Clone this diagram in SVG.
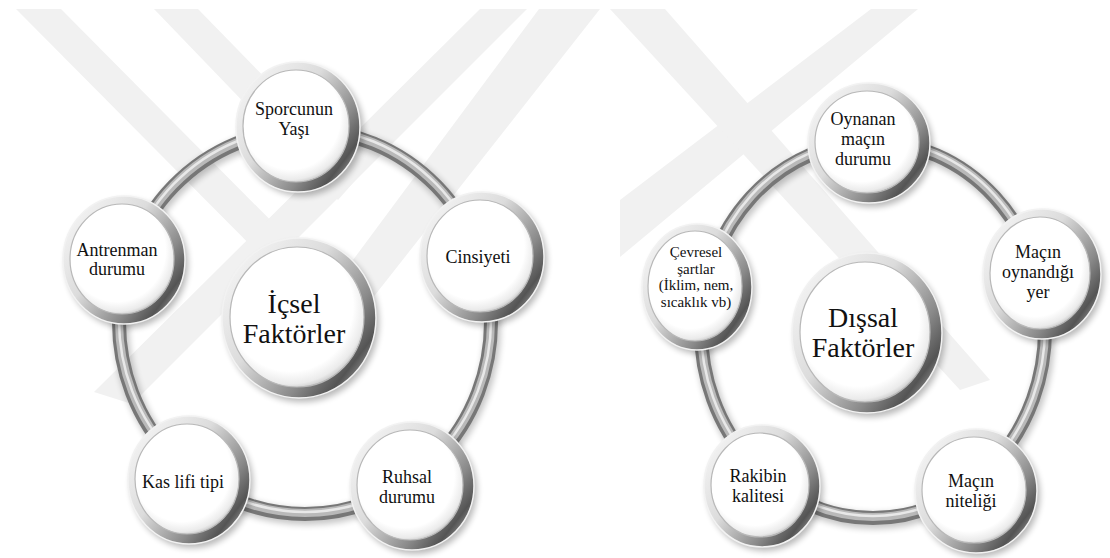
<svg xmlns="http://www.w3.org/2000/svg" width="1110" height="558" viewBox="0 0 1110 558">
<defs>
<linearGradient id="rimGrad" x1="0" y1="0" x2="1" y2="0.8">
<stop offset="0" stop-color="#fbfbfb"/>
<stop offset="0.45" stop-color="#dcdcdc"/>
<stop offset="0.75" stop-color="#8a8a8a"/>
<stop offset="0.9" stop-color="#545454"/>
<stop offset="1" stop-color="#a0a0a0"/>
</linearGradient>
<radialGradient id="faceGrad" cx="0.45" cy="0.42" r="0.6">
<stop offset="0" stop-color="#ffffff"/>
<stop offset="0.78" stop-color="#ffffff"/>
<stop offset="0.93" stop-color="#ebebeb"/>
<stop offset="1" stop-color="#c8c8c8"/>
</radialGradient>
<filter id="blur" x="-20%" y="-20%" width="140%" height="140%">
<feGaussianBlur stdDeviation="3"/>
</filter>
<style>
.wm{fill:#f1f1f1}
.shadow{fill:#000;opacity:.28;filter:url(#blur)}
.rim{fill:url(#rimGrad);stroke:#f2f2f2;stroke-width:1.5}
.face{fill:url(#faceGrad);stroke:#b8b8b8;stroke-width:1.2}
.t{font-family:"Liberation Serif","Times New Roman",serif;font-size:18px;fill:#111;text-anchor:middle}
.ts{font-size:15px}
.tc{font-size:28px}
.ringsh{fill:none;stroke:#000;stroke-width:16;opacity:.22;filter:url(#blur)}
.ring1{fill:none;stroke:#777;stroke-width:14}
.ring2{fill:none;stroke:#b9b9b9;stroke-width:8}
.ring3{fill:none;stroke:#e8e8e8;stroke-width:2.5}
</style>
</defs>
<rect width="1110" height="558" fill="#ffffff"/>
<g id="watermark">
<polygon class="wm" points="16,9 61,9 300,250 300,295"/>
<polygon class="wm" points="154,9 198,9 360,175 338,200"/>
<polygon class="wm" points="480,9 527,9 132,404 94,392"/>
<polygon class="wm" points="539,9 600,9 320,365 290,345"/>
<polygon class="wm" points="871,9 918,9 620,257 620,200"/>
<polygon class="wm" points="610,9 665,9 990,380 960,390"/>
</g>
<g id="connectors">
<ellipse class="ringsh" cx="307" cy="325" rx="186" ry="192"/>
<ellipse class="ring1" cx="305" cy="322" rx="186" ry="192"/>
<ellipse class="ring2" cx="305" cy="321" rx="186" ry="192"/>
<ellipse class="ring3" cx="305" cy="320" rx="186" ry="192"/>
<ellipse class="ringsh" cx="875" cy="333" rx="172" ry="188"/>
<ellipse class="ring1" cx="873" cy="330" rx="172" ry="188"/>
<ellipse class="ring2" cx="873" cy="329" rx="172" ry="188"/>
<ellipse class="ring3" cx="873" cy="328" rx="172" ry="188"/>
</g>
<g id="n-sporcunun">
<ellipse class="shadow" cx="302" cy="131" rx="62" ry="65"/>
<ellipse class="rim" cx="298" cy="127" rx="62" ry="65"/>
<ellipse class="face" cx="296" cy="126" rx="53" ry="56"/>
<text class="t" x="294" y="115">Sporcunun</text>
<text class="t" x="294" y="135">Yaşı</text>
</g>
<g id="n-cinsiyeti">
<ellipse class="shadow" cx="485" cy="261" rx="62" ry="65"/>
<ellipse class="rim" cx="482" cy="257" rx="62" ry="65"/>
<ellipse class="face" cx="480" cy="256" rx="53" ry="56"/>
<text class="t" x="478" y="263">Cinsiyeti</text>
</g>
<g id="n-ruhsal">
<ellipse class="shadow" cx="415" cy="490" rx="62" ry="64"/>
<ellipse class="rim" cx="412" cy="486" rx="62" ry="64"/>
<ellipse class="face" cx="410" cy="485" rx="53" ry="55"/>
<text class="t" x="407" y="483">Ruhsal</text>
<text class="t" x="407" y="503">durumu</text>
</g>
<g id="n-kas">
<ellipse class="shadow" cx="192" cy="484" rx="61" ry="64"/>
<ellipse class="rim" cx="189" cy="480" rx="61" ry="64"/>
<ellipse class="face" cx="187" cy="479" rx="52" ry="55"/>
<text class="t" x="183" y="488">Kas lifi tipi</text>
</g>
<g id="n-antrenman">
<ellipse class="shadow" cx="127" cy="264" rx="61" ry="64"/>
<ellipse class="rim" cx="124" cy="260" rx="61" ry="64"/>
<ellipse class="face" cx="122" cy="259" rx="52" ry="55"/>
<text class="t" x="117" y="256">Antrenman</text>
<text class="t" x="117" y="275">durumu</text>
</g>
<g id="n-icsel">
<ellipse class="shadow" cx="302" cy="322" rx="77" ry="80"/>
<ellipse class="rim" cx="299" cy="318" rx="77" ry="80"/>
<ellipse class="face" cx="297" cy="317" rx="67" ry="70"/>
<text class="t tc" x="294" y="313">İçsel</text>
<text class="t tc" x="294" y="343">Faktörler</text>
</g>
<g id="n-oynanan">
<ellipse class="shadow" cx="872" cy="147" rx="61" ry="60"/>
<ellipse class="rim" cx="869" cy="143" rx="61" ry="60"/>
<ellipse class="face" cx="867" cy="142" rx="52" ry="51"/>
<text class="t" x="863" y="125">Oynanan</text>
<text class="t" x="863" y="145">maçın</text>
<text class="t" x="863" y="165">durumu</text>
</g>
<g id="n-macin-yer">
<ellipse class="shadow" cx="1045" cy="278" rx="59" ry="65"/>
<ellipse class="rim" cx="1042" cy="274" rx="59" ry="65"/>
<ellipse class="face" cx="1040" cy="273" rx="50" ry="56"/>
<text class="t" x="1038" y="258">Maçın</text>
<text class="t" x="1038" y="278">oynandığı</text>
<text class="t" x="1038" y="298">yer</text>
</g>
<g id="n-macin-nitelik">
<ellipse class="shadow" cx="979" cy="495" rx="61" ry="62"/>
<ellipse class="rim" cx="976" cy="491" rx="61" ry="62"/>
<ellipse class="face" cx="974" cy="490" rx="52" ry="53"/>
<text class="t" x="971" y="487">Maçın</text>
<text class="t" x="971" y="507">niteliği</text>
</g>
<g id="n-rakibin">
<ellipse class="shadow" cx="765" cy="490" rx="58" ry="61"/>
<ellipse class="rim" cx="762" cy="486" rx="58" ry="61"/>
<ellipse class="face" cx="760" cy="485" rx="49" ry="52"/>
<text class="t" x="758" y="482">Rakibin</text>
<text class="t" x="758" y="502">kalitesi</text>
</g>
<g id="n-cevresel">
<ellipse class="shadow" cx="700" cy="291" rx="55" ry="63"/>
<ellipse class="rim" cx="697" cy="287" rx="55" ry="63"/>
<ellipse class="face" cx="695" cy="286" rx="47" ry="55"/>
<text class="t ts" x="696" y="257">Çevresel</text>
<text class="t ts" x="696" y="274">şartlar</text>
<text class="t ts" x="696" y="290">(İklim, nem,</text>
<text class="t ts" x="696" y="307">sıcaklık vb)</text>
</g>
<g id="n-dissal">
<ellipse class="shadow" cx="870" cy="337" rx="75" ry="80"/>
<ellipse class="rim" cx="867" cy="333" rx="75" ry="80"/>
<ellipse class="face" cx="865" cy="332" rx="65" ry="70"/>
<text class="t tc" x="863" y="327">Dışsal</text>
<text class="t tc" x="863" y="357">Faktörler</text>
</g>
</svg>
